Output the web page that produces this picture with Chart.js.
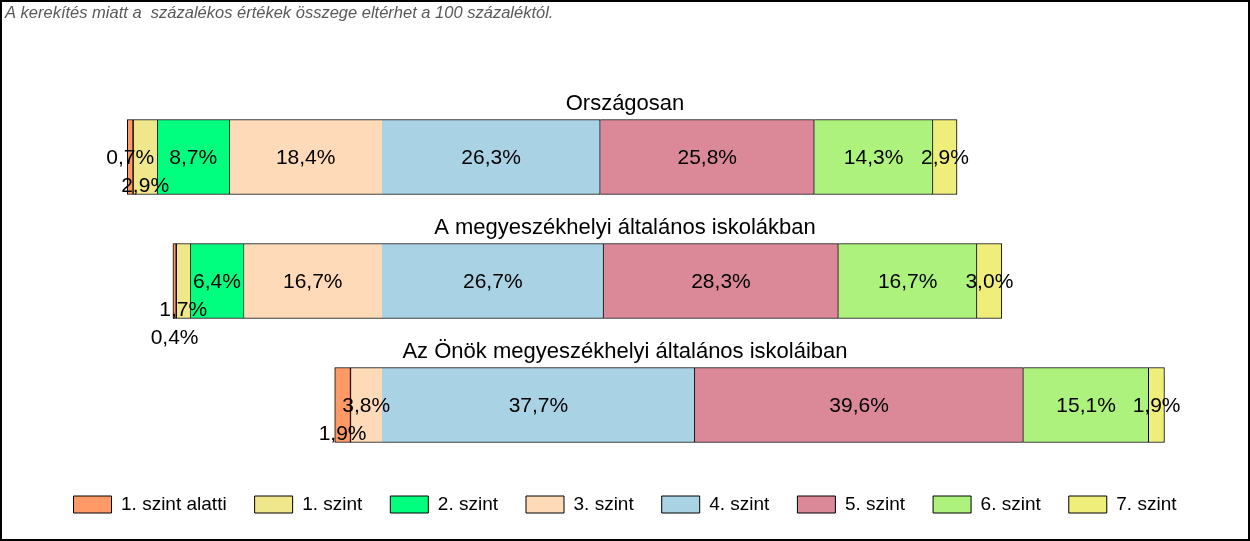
<!DOCTYPE html>
<html>
<head>
<meta charset="utf-8">
<title>Képességszintek megoszlása</title>
<script src="https://cdn.jsdelivr.net/npm/chart.js@4.4.1/dist/chart.umd.min.js"></script>
<style>
  html, body { margin: 0; padding: 0; background: #fff; }
  #chartdiv { width: 1250px; height: 541px; }
</style>
</head>
<body>
<div id="chartdiv"><canvas id="LevelChart" width="1250" height="541"></canvas></div>
<script>
// Rows of the chart
var groups = ["Országosan", "A megyeszékhelyi általános iskolákban", "Az Önök megyeszékhelyi általános iskoláiban"];

// Legend / levels
var levels = ["1. szint alatti", "1. szint", "2. szint", "3. szint", "4. szint", "5. szint", "6. szint", "7. szint"];

// Percentages per level (one value per row)
var levelBelow1 = [0.7, 0.4, 1.9];
var level1 = [2.9, 1.7, 0];
var level2 = [8.7, 6.4, 0];
var level3 = [18.4, 16.7, 3.8];
var level4 = [26.3, 26.7, 37.7];
var level5 = [25.8, 28.3, 39.6];
var level6 = [14.3, 16.7, 15.1];
var level7 = [2.9, 3.0, 1.9];

var levelValues = [levelBelow1, level1, level2, level3, level4, level5, level6, level7];

// Colours of the levels
var levelColors = ["#FF9966", "#F0E68C", "#00FF7F", "#FFDAB9", "#A9D3E5", "#DB8899", "#ADF27C", "#F0EE7A"];

// Footnote
var note = "A kerekítés miatt a  százalékos értékek összege eltérhet a 100 százaléktól.";

// Levels before this index go left of the zero line
var splitAt = 4;

Chart.defaults.font.family = "'Liberation Sans', Arial, sans-serif";
Chart.defaults.color = "#000";

// ----------------------------------- Data -------------------------------------------
// Floating bar [start, end] for a level in every row
function buildRanges(li) {
  return groups.map(function(g, gi) {
    var v = levelValues[li][gi];
    if (!v) return null;
    var start = 0;
    var k;
    if (li < splitAt) {
      for (k = li; k < splitAt; k++) start -= levelValues[k][gi];
    } else {
      for (k = splitAt; k < li; k++) start += levelValues[k][gi];
    }
    return [start, start + v];
  });
}

// First level drawn in a row (needs a left border)
function firstLevel(gi) {
  for (var li = 0; li < levelValues.length; li++) {
    if (levelValues[li][gi]) return li;
  }
  return 0;
}

function fmt(v) {
  return v.toFixed(1).replace(".", ",") + "%";
}

var datasets = levels.map(function(name, li) {
  return {
    label: name,
    data: buildRanges(li),
    backgroundColor: levelColors[li],
    borderColor: "#000",
    borderWidth: 1,
    borderSkipped: function(ctx) {
      return ctx.datasetIndex === firstLevel(ctx.dataIndex) ? false : "left";
    },
    grouped: false,
    barThickness: 75
  };
});

// ----------------------------------- Plugins -------------------------------------------
// White page, footnote and frame
var pagePlugin = {
  id: "page",
  beforeDraw: function(chart) {
    var ctx = chart.ctx;
    ctx.save();
    ctx.fillStyle = "#fff";
    ctx.fillRect(0, 0, chart.width, chart.height);
    ctx.restore();
  },
  afterDraw: function(chart) {
    var ctx = chart.ctx;
    ctx.save();
    ctx.font = "italic 16.5px 'Liberation Sans', Arial, sans-serif";
    ctx.fillStyle = "#595959";
    ctx.textAlign = "left";
    ctx.textBaseline = "alphabetic";
    ctx.fillText(note, 5, 18);
    ctx.strokeStyle = "#000";
    ctx.lineWidth = 2;
    ctx.strokeRect(1, 1, chart.width - 2, chart.height - 2);
    ctx.restore();
  }
};

// Row titles and value labels; labels that collide are pushed down
var labelPlugin = {
  id: "levelLabels",
  afterDatasetsDraw: function(chart) {
    var ctx = chart.ctx;
    var area = chart.chartArea;
    ctx.save();
    ctx.fillStyle = "#000";
    ctx.textAlign = "center";

    groups.forEach(function(title, gi) {
      var items = [];
      var top = null, cy = null;
      levels.forEach(function(name, li) {
        var el = chart.getDatasetMeta(li).data[gi];
        if (!el || !levelValues[li][gi]) return;
        top = el.y - el.height / 2;
        cy = el.y;
        items.push({ text: fmt(levelValues[li][gi]), cx: (el.x + el.base) / 2 });
      });
      if (top === null) return;

      // title above bar
      ctx.font = "22px 'Liberation Sans', Arial, sans-serif";
      ctx.textBaseline = "alphabetic";
      ctx.fillText(title, (area.left + area.right) / 2, top - 10);

      // values
      ctx.font = "21px 'Liberation Sans', Arial, sans-serif";
      ctx.textBaseline = "middle";
      items.sort(function(a, b) { return b.cx - a.cx; });
      var placed = [];
      items.forEach(function(it) {
        var w = ctx.measureText(it.text).width;
        var l = it.cx - w / 2 - 2, r = it.cx + w / 2 + 2;
        var lvl = 0;
        while (placed.some(function(p) { return p.lvl === lvl && l < p.r && r > p.l; })) lvl++;
        placed.push({ l: l, r: r, lvl: lvl });
        ctx.fillText(it.text, it.cx, cy + 1 + lvl * 28);
      });
    });
    ctx.restore();
  }
};

// ----------------------------------- Chart.js -------------------------------------------
var chart = new Chart(document.getElementById("LevelChart"), {
  type: "bar",
  data: {
    labels: groups,
    datasets: datasets
  },
  options: {
    indexAxis: "y",
    responsive: false,
    animation: false,
    layout: { padding: { left: 20, right: 20, top: 95, bottom: 17 } },
    scales: {
      x: { type: "linear", min: -43.63, max: 102.2, display: false },
      y: { type: "category", display: false }
    },
    plugins: {
      tooltip: { enabled: false },
      legend: {
        position: "bottom",
        labels: {
          boxWidth: 38,
          boxHeight: 17,
          padding: 28,
          color: "#000",
          font: { size: 19 }
        }
      }
    }
  },
  plugins: [pagePlugin, labelPlugin]
});
</script>
</body>
</html>
